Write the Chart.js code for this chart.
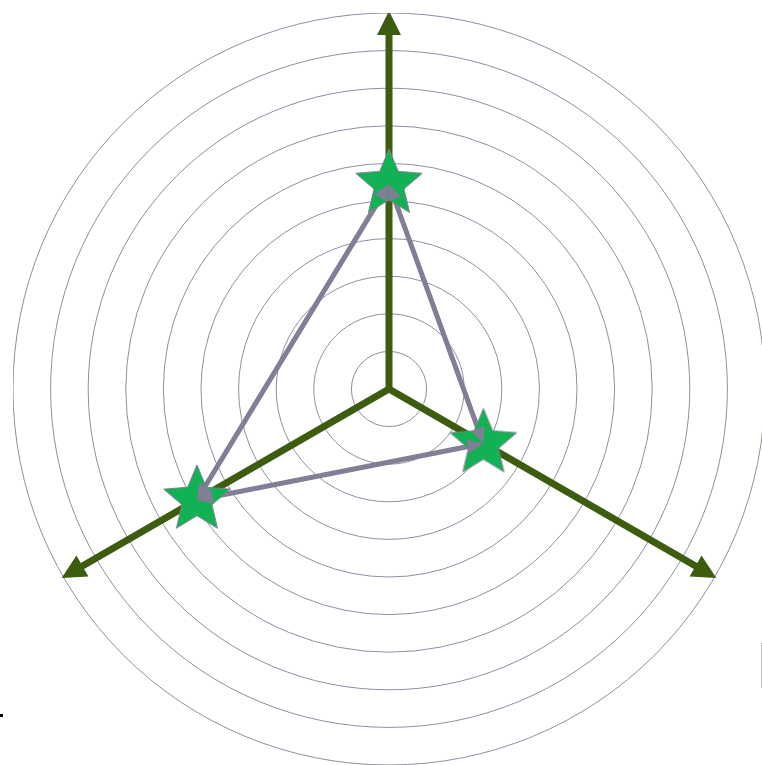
<!DOCTYPE html>
<html>
<head>
<meta charset="utf-8">
<script src="https://cdn.jsdelivr.net/npm/chart.js@4/dist/chart.umd.min.js"></script>
<style>
    html, body { margin: 0; padding: 0; background: #fff; overflow: hidden; }
    body { width: 762px; height: 765px; position: relative; }
    #wrap { position: absolute; left: 13px; top: 13px; width: 752px; height: 752px; }
    .dot { position: absolute; left: 0; top: 714px; width: 3px; height: 3px; background: #000; }
    .edge { position: absolute; left: 761px; top: 643px; width: 1px; height: 45px; background: #bdbdbd; }
</style>
</head>
<body>
<div id="wrap"><canvas id="radar"></canvas></div>
<div class="dot"></div>
<div class="edge"></div>
<script>
var labels = ['A', 'B', 'C'];
var values = [5.45, 2.9, 5.9];
var scaleMax = 10;
var scaleStep = 1;

var axisColor = '#3e5c10';
var lineColor = '#827e95';
var gridColor = '#8f8da1';
var starColor = '#10b253';

// filled five point star used as the point style
function makeStar(R) {
    var c = document.createElement('canvas');
    var s = Math.ceil(R * 2 + 4);
    c.width = s;
    c.height = s;
    var g = c.getContext('2d');
    var r = R * 0.45;
    g.beginPath();
    for (var k = 0; k < 10; k++) {
        var a = -Math.PI / 2 + k * Math.PI / 5;
        var rr = k % 2 ? r : R;
        g.lineTo(s / 2 + rr * Math.cos(a), s / 2 + rr * Math.sin(a));
    }
    g.closePath();
    g.fillStyle = starColor;
    g.fill();
    g.lineWidth = 1;
    g.strokeStyle = lineColor;
    g.stroke();
    return c;
}

function arrowHead(ctx, tx, ty, ang, len, half, color) {
    ctx.save();
    ctx.translate(tx, ty);
    ctx.rotate(ang);
    ctx.beginPath();
    ctx.moveTo(0, 0);
    ctx.lineTo(-len, -half);
    ctx.lineTo(-len, half);
    ctx.closePath();
    ctx.fillStyle = color;
    ctx.fill();
    ctx.restore();
}

// green axes with arrows, drawn under the dataset
var axesPlugin = {
    id: 'axes',
    beforeDatasetsDraw: function(chart) {
        var sc = chart.scales.r;
        var ctx = chart.ctx;
        var R = sc.drawingArea;
        ctx.save();
        for (var i = 0; i < labels.length; i++) {
            var end = sc.getPointPosition(i, R - 14);
            var tip = sc.getPointPosition(i, R + 2);
            ctx.beginPath();
            ctx.moveTo(sc.xCenter, sc.yCenter);
            ctx.lineTo(end.x, end.y);
            ctx.lineWidth = 7;
            ctx.strokeStyle = axisColor;
            ctx.stroke();
            var ang = Math.atan2(tip.y - sc.yCenter, tip.x - sc.xCenter);
            arrowHead(ctx, tip.x, tip.y, ang, 24, 12, axisColor);
        }
        // joint at the centre
        ctx.beginPath();
        ctx.arc(sc.xCenter, sc.yCenter, 3.5, 0, Math.PI * 2);
        ctx.fillStyle = axisColor;
        ctx.fill();
        ctx.restore();
    }
};

// small grey arrows where the polygon edges meet
var edgeArrows = {
    id: 'edgeArrows',
    afterDatasetsDraw: function(chart) {
        var pts = chart.getDatasetMeta(0).data;
        var ctx = chart.ctx;
        var n = pts.length;
        for (var i = 0; i < n; i++) {
            var p = pts[i];
            [pts[(i + 1) % n], pts[(i + n - 1) % n]].forEach(function(q) {
                var ang = Math.atan2(p.y - q.y, p.x - q.x);
                arrowHead(ctx, p.x, p.y, ang, 16, 7, lineColor);
            });
        }
    }
};

var ctx = document.getElementById('radar').getContext('2d');
var chart = new Chart(ctx, {
    type: 'radar',
    data: {
        labels: labels,
        datasets: [{
            data: values,
            borderColor: lineColor,
            borderWidth: 5,
            fill: false,
            backgroundColor: 'transparent',
            pointStyle: makeStar(35),
            pointRadius: 35,
            pointHoverRadius: 35
        }]
    },
    options: {
        responsive: true,
        maintainAspectRatio: false,
        animation: false,
        events: [],
        plugins: { legend: { display: false }, tooltip: { enabled: false } },
        layout: { padding: 0 },
        scales: {
            r: {
                min: 0,
                max: scaleMax,
                ticks: { display: false, stepSize: scaleStep },
                pointLabels: { display: false },
                angleLines: { display: false },
                grid: { circular: true, color: gridColor, lineWidth: 1 }
            }
        }
    },
    plugins: [axesPlugin, edgeArrows]
});
</script>
</body>
</html>
